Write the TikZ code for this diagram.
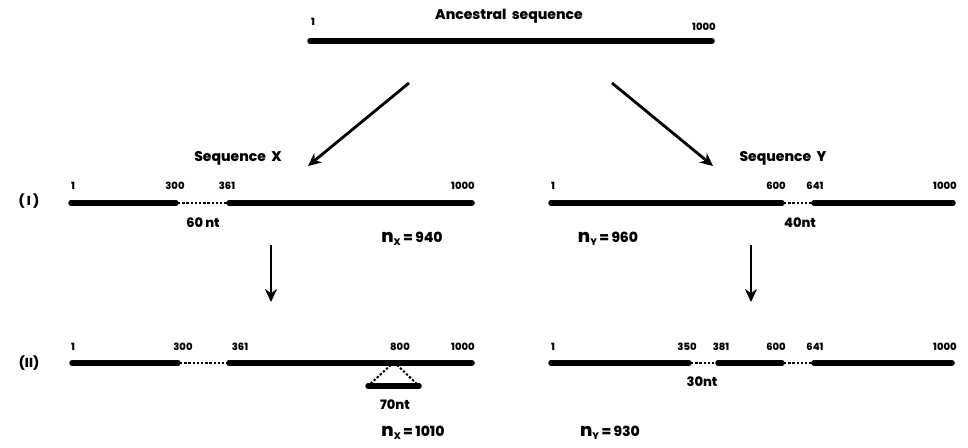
\documentclass[tikz,border=0pt]{standalone}
\usepackage{fontspec}
\setmainfont{Poppins}[BoldFont={Poppins ExtraBold}]
\usetikzlibrary{arrows.meta}
\newcommand{\subx}[1]{\raisebox{-3.5pt}{\fontsize{9.5}{10}\selectfont #1}}
\newcommand{\bign}{{\fontsize{18}{19}\selectfont n}}
\begin{document}
\begin{tikzpicture}[x=1pt,y=-1pt,
 bar/.style={line width=5.5pt,line cap=round},
 gapline/.style={line width=2.3pt,dash pattern=on 2.4pt off 1.8pt},
 num/.style={font=\fontsize{10}{11}\selectfont\bfseries,inner sep=0pt},
 lab/.style={font=\fontsize{13}{15}\selectfont\bfseries,inner sep=0pt},
 seq/.style={font=\fontsize{14}{16}\selectfont\bfseries,inner sep=0pt},
 big/.style={font=\fontsize{14}{16}\selectfont\bfseries,inner sep=0pt},
 arr/.style={line width=2.8pt,-{Stealth[length=13pt,width=12pt]}}]
\useasboundingbox (0,0) rectangle (968,447);
% ancestral
\node[seq] (title) at (509,16) {Ancestral\ \ sequence};
\node[num] (a1) at (313,22) {1};
\node[num] (a1000) at (704,27) {1000};
\draw[bar] (310,41) -- (712,41);
\coordinate (la) at (409,83); \coordinate (lb) at (308,166);
\coordinate (ra) at (612,83); \coordinate (rb) at (713,166);
\draw[arr] (la) -- (lb);
\draw[arr] (ra) -- (rb);
\node[seq] (sx) at (238,158) {Sequence\ \ X};
\node[seq] (sy) at (783,158) {Sequence\ \ Y};
% row I
\node[lab] (r1) at (29,201) {(\,I\,)};
\draw[bar] (71,203) -- (176,203);
\draw[gapline] (178,203) -- (227,203);
\draw[bar] (229,203) -- (472,203);
\node[num] (x1a) at (73,186) {1};
\node[num] (x1b) at (175,186) {300};
\node[num] (x1c) at (227,186) {361};
\node[num] (x1d) at (463,186) {1000};
\node[lab] (x1g) at (203,223) {60\,nt};
\node[big] (nx1) at (412,239) {\bign\subx{X}\ = 940};
\draw[bar] (551,203) -- (782,203);
\draw[gapline] (784,203) -- (812,203);
\draw[bar] (814,203) -- (953,203);
\node[num] (y1a) at (553,186) {1};
\node[num] (y1b) at (776,186) {600};
\node[num] (y1c) at (815,186) {641};
\node[num] (y1d) at (945,186) {1000};
\node[lab] (y1g) at (800,223) {40nt};
\node[big] (ny1) at (608,239) {\bign\subx{Y}\ = 960};
% vertical arrows
\coordinate (va) at (271,245); \coordinate (vb) at (271,302);
\coordinate (wa) at (751,245); \coordinate (wb) at (751,302);
\draw[arr] (va) -- (vb);
\draw[arr] (wa) -- (wb);
% row II
\node[lab] (r2) at (29,363) {(II)};
\draw[bar] (72,363) -- (178,363);
\draw[gapline] (180,363) -- (227,363);
\draw[bar] (229,363) -- (472,363);
\node[num] (x2a) at (73,347) {1};
\node[num] (x2b) at (183,347) {300};
\node[num] (x2c) at (240,347) {361};
\node[num] (x2d) at (400,347) {800};
\node[num] (x2e) at (463,347) {1000};
\coordinate (apex) at (394,362);
\coordinate (bl) at (368,386); \coordinate (br) at (419,386);
\draw[gapline,line width=2pt] (apex) -- (bl);
\draw[gapline,line width=2pt] (apex) -- (br);
\draw[bar] (bl) -- (br);
\node[lab] (ins) at (395,405) {70nt};
\node[big] (nx2) at (413,433) {\bign\subx{X}\ = 1010};
\draw[bar] (551,363) -- (689,363);
\draw[gapline] (691,363) -- (716,363);
\draw[bar] (718,363) -- (782,363);
\draw[gapline] (784,363) -- (812,363);
\draw[bar] (814,363) -- (952,363);
\node[num] (y2a) at (553,347) {1};
\node[num] (y2b) at (687,347) {350};
\node[num] (y2c) at (721,347) {381};
\node[num] (y2d) at (776,347) {600};
\node[num] (y2e) at (815,347) {641};
\node[num] (y2f) at (945,347) {1000};
\node[lab] (y2g) at (702,382) {30nt};
\node[big] (ny2) at (610,433) {\bign\subx{Y}\ = 930};
\end{tikzpicture}
\end{document}
